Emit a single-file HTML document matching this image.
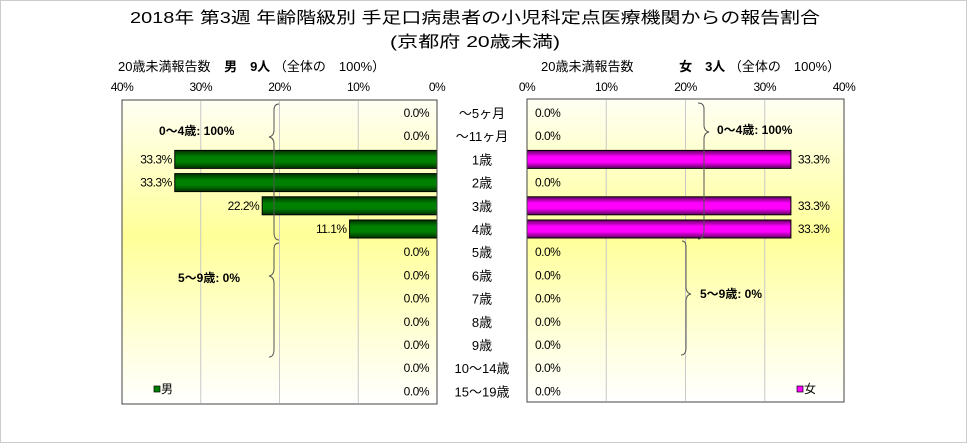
<!DOCTYPE html>
<html><head><meta charset="utf-8"><style>
body{margin:0;width:968px;height:443px;overflow:hidden;background:#fff;font-family:"Liberation Sans","Noto Sans CJK JP",sans-serif}
svg text{font-family:"Liberation Sans","Noto Sans CJK JP",sans-serif}
</style></head><body>
<svg id="c" width="968" height="443">
<defs>
<linearGradient id="bg" x1="0" y1="0" x2="0" y2="1">
<stop offset="0" stop-color="#fffff4"/><stop offset="0.45" stop-color="#ffff99"/><stop offset="0.8" stop-color="#ffffdd"/><stop offset="1" stop-color="#ffffff"/></linearGradient>
<linearGradient id="gm" x1="0" y1="0" x2="0" y2="1">
<stop offset="0" stop-color="#003000"/><stop offset="0.35" stop-color="#008000"/><stop offset="0.65" stop-color="#008000"/><stop offset="1" stop-color="#003000"/></linearGradient>
<linearGradient id="gf" x1="0" y1="0" x2="0" y2="1">
<stop offset="0" stop-color="#600060"/><stop offset="0.35" stop-color="#ff00ff"/><stop offset="0.65" stop-color="#ff00ff"/><stop offset="1" stop-color="#600060"/></linearGradient>
</defs>
<rect x="0.5" y="0.5" width="966" height="442" fill="#fff" stroke="#ccc"/>
<text x="475" y="23" font-size="16" text-anchor="middle" textLength="690" lengthAdjust="spacingAndGlyphs">2018年 第3週 年齢階級別 手足口病患者の小児科定点医療機関からの報告割合</text>
<text x="475" y="47" font-size="16" text-anchor="middle" textLength="170" lengthAdjust="spacingAndGlyphs">(京都府 20歳未満)</text>
<text x="118" y="71" font-size="13">20歳未満報告数 <tspan font-weight="bold" dx="10">男　9人</tspan> （全体の　100%）</text>
<text x="541" y="71" font-size="13">20歳未満報告数 <tspan font-weight="bold" dx="42">女　3人</tspan> （全体の　100%）</text>
<rect x="122" y="100" width="315" height="304" fill="url(#bg)"/>
<rect x="527" y="99" width="317" height="303" fill="url(#bg)"/>
<g id="g"></g>
<rect x="122" y="100" width="315" height="304" fill="none" stroke="#444"/>
<rect x="527" y="99" width="317" height="303" fill="none" stroke="#444"/>
<path d="M279,104 q-5,0 -5,6 v20 q0,6 -5,7 q5,1 5,7 v88 q0,8 5,8" fill="none" stroke="#555"/>
<text x="159" y="135" font-size="12" font-weight="bold">0～4歳: 100%</text>
<path d="M279,243 q-5,0 -5,6 v20 q0,6 -5,7 q5,1 5,7 v66 q0,8 -5,8" fill="none" stroke="#555"/>
<text x="178" y="282" font-size="12" font-weight="bold">5～9歳: 0%</text>
<path d="M698,103 q6,0 6,6 v16 q0,6 5,7 q-5,1 -5,7 v92 q0,8 -6,8" fill="none" stroke="#555"/>
<text x="717" y="134" font-size="12" font-weight="bold">0～4歳: 100%</text>
<path d="M682,241 q4,0 4,6 v40 q0,6 5,7 q-5,1 -5,7 v47 q0,7 -5,7" fill="none" stroke="#555"/>
<text x="700" y="298" font-size="12" font-weight="bold">5～9歳: 0%</text>
<rect x="154" y="386" width="6" height="6" fill="#008000" stroke="#000" stroke-width="0.7"/>
<text x="161" y="393" font-size="12">男</text>
<rect x="797" y="386" width="6" height="6" fill="#ff00ff" stroke="#000" stroke-width="0.7"/>
<text x="804" y="393" font-size="12">女</text>
</svg>
<script>
const categories=["～5ヶ月","～11ヶ月","1歳","2歳","3歳","4歳","5歳","6歳","7歳","8歳","9歳","10～14歳","15～19歳"];
const maleValues=[0,0,33.3,33.3,22.2,11.1,0,0,0,0,0,0,0];
const femaleValues=[0,0,33.3,0,33.3,33.3,0,0,0,0,0,0,0];
const ticks=[0,10,20,30,40];
const NS="http://www.w3.org/2000/svg";
const g=document.getElementById('g');
function mx(v){return 437-v*(315/40);}
function fx(v){return 527+v*(317/40);}
function ry(i){return 113+i*23.2;}
function mk(tag,attrs,txt){const e=document.createElementNS(NS,tag);for(const k in attrs)e.setAttribute(k,attrs[k]);if(txt!==undefined)e.textContent=txt;g.appendChild(e);return e;}
ticks.forEach(t=>{
  if(t>0&&t<40){
    let l=mk('line',{x1:mx(t),x2:mx(t),y1:101,y2:403,stroke:'#c8c8c8'});
    
    
    l=mk('line',{x1:fx(t),x2:fx(t),y1:100,y2:401,stroke:'#c8c8c8'});
    
    
  }
  let a=mk('text',{x:mx(t),y:91,'font-size':12,'text-anchor':'middle','letter-spacing':'-0.5'},t+'%');
  
  
  a=mk('text',{x:fx(t),y:91,'font-size':12,'text-anchor':'middle','letter-spacing':'-0.5'},t+'%');
  
  
});
categories.forEach((c,i)=>{
  const y=ry(i);
  let t=mk('text',{x:482,y:y+5,'font-size':13,'text-anchor':'middle'},c);
  
  
  const m=maleValues[i],f=femaleValues[i];
  if(m>0){
    let r=mk('rect',{x:mx(m),y:y-9,width:437-mx(m),height:18,fill:'url(#gm)',stroke:'#000','stroke-width':1});
    
    
    t=mk('text',{x:mx(m)-3,y:y+4,'font-size':12,'text-anchor':'end','letter-spacing':'-0.5'},m.toFixed(1)+'%');
  } else {
    t=mk('text',{x:429,y:y+4,'font-size':12,'text-anchor':'end','letter-spacing':'-0.5'},m.toFixed(1)+'%');
  }
  
  
  if(f>0){
    let r=mk('rect',{x:527,y:y-9,width:fx(f)-527,height:18,fill:'url(#gf)',stroke:'#000','stroke-width':1});
    
    
    t=mk('text',{x:fx(f)+7,y:y+4,'font-size':12,'letter-spacing':'-0.5'},f.toFixed(1)+'%');
  } else {
    t=mk('text',{x:535,y:y+4,'font-size':12,'letter-spacing':'-0.5'},f.toFixed(1)+'%');
  }
  
  
});
</script>
</body></html>
